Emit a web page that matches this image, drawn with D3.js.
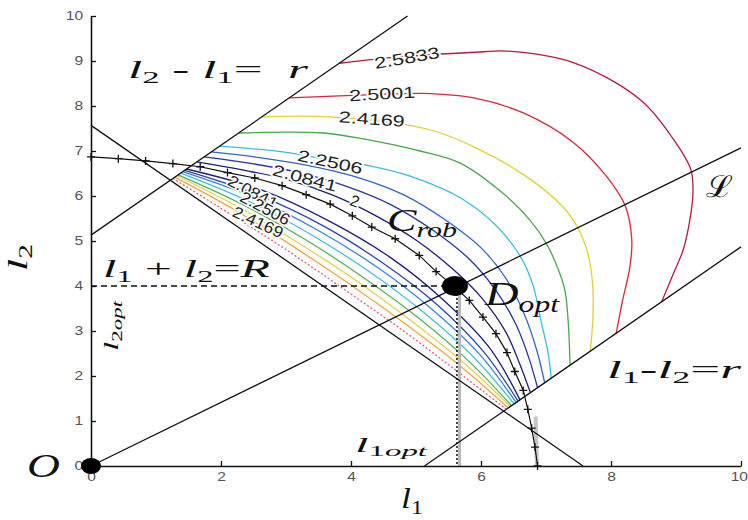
<!DOCTYPE html>
<html>
<head>
<meta charset="utf-8">
<script src="https://cdn.jsdelivr.net/npm/d3@7"></script>
<style>
  html, body { margin: 0; padding: 0; background: #fff; }
  svg { display: block; }
</style>
</head>
<body>
<svg id="chart" width="748" height="520"></svg>
<script>
// ---- data: (l1, l2) plane ----
const xTickValues = [0, 2, 4, 6, 8, 10];
const yTickValues = [0, 1, 2, 3, 4, 5, 6, 7, 8, 9, 10];

// design constraints l1 + l2 = R and |l1 - l2| = r
const bigR = 7.57;
const smallR = 5.13;
const optimum = [5.63, 4.0];
const lineL = [[0, 0], [10, 7.07]];

// robust curve C_rob (plotted with '+' markers)
const cRob = [[0,6.87],[0.42,6.83],[0.84,6.78],[1.26,6.72],[1.68,6.65],[2.1,6.52],[2.52,6.4],
  [2.94,6.23],[3.31,6.03],[3.68,5.82],[4.02,5.56],[4.32,5.31],[4.68,5.05],[5.05,4.68],
  [5.31,4.32],[5.56,4.02],[5.82,3.68],[6.03,3.31],[6.23,2.94],[6.4,2.52],[6.52,2.1],
  [6.65,1.68],[6.72,1.26],[6.78,0.84],[6.83,0.42],[6.87,0]];

// level curves above C_rob
const level25833 = [[3.82,8.95],[4.75,9.09],[5.98,9.2],[6.4,9.22],[7.43,8.96],[8.46,8.13],[8.97,7.24],
  [9.23,6.58],[9.26,6.02],[9.2,5.36],[9.11,4.8],[8.97,4.31],[8.78,3.65]];
const level25001 = [[3.05,8.18],[4.45,8.26],[5.11,8.28],[5.89,8.18],[6.66,7.84],[7.43,7.18],[7.94,6.42],
  [8.22,5.78],[8.32,5.02],[8.29,4.42],[8.18,3.69],[8.08,2.95]];
const level24169 = [[2.63,7.76],[3.68,7.76],[4.95,7.56],[5.38,7.4],[5.89,7.09],[6.66,6.47],[7.26,5.76],
  [7.49,5.29],[7.65,4.69],[7.72,3.98],[7.72,3.24],[7.68,2.55]];
const level23338 = [[2.27,7.4],[3.57,7.4],[4.29,7.24],[5.06,7.0],[5.68,6.73],[6.37,6.02],[6.75,5.47],
  [7.0,4.96],[7.18,4.4],[7.29,3.91],[7.34,3.24],[7.37,2.24]];
const level22506 = [[1.98,7.11],[3.06,6.96],[3.68,6.8],[4.29,6.67],[4.91,6.44],[5.68,5.96],[6.22,5.36],
  [6.6,4.67],[6.8,4.02],[6.92,3.24],[7.03,2.53],[7.08,1.95]];
const level21673 = [[1.85,6.98],[2.56,6.86],[3.29,6.69],[4.11,6.41],[4.82,6.02],[5.46,5.46],[6.02,4.82],
  [6.41,4.11],[6.69,3.29],[6.86,2.56],[6.98,1.85]];
const level20841 = [[1.74,6.87],[2.43,6.73],[3.14,6.54],[3.92,6.22],[4.61,5.81],[5.25,5.25],[5.81,4.61],
  [6.22,3.92],[6.54,3.14],[6.73,2.43],[6.87,1.74]];
const level20009 = [[1.63,6.76],[2.29,6.59],[2.98,6.38],[3.72,6.02],[4.37,5.57],[5.01,5.01],[5.57,4.37],
  [6.02,3.72],[6.38,2.98],[6.59,2.29],[6.76,1.63]];

// level curves between C_rob and l1 + l2 = R
const lowNavy   = [[1.47,6.6],[2.63,6.13],[3.68,5.43],[4.62,4.62],[5.43,3.68],[6.13,2.63],[6.6,1.47]];
const lowBlue   = [[1.44,6.57],[2.54,6.04],[3.58,5.33],[4.5,4.5],[5.33,3.58],[6.04,2.54],[6.57,1.44]];
const lowSky    = [[1.41,6.54],[2.48,5.98],[3.49,5.24],[4.41,4.41],[5.24,3.49],[5.98,2.48],[6.54,1.41]];
const lowCyan   = [[1.38,6.51],[2.4,5.9],[3.39,5.14],[4.3,4.3],[5.14,3.39],[5.9,2.4],[6.51,1.38]];
const lowGreen  = [[1.34,6.47],[2.32,5.82],[3.29,5.04],[4.19,4.19],[5.04,3.29],[5.82,2.32],[6.47,1.34]];
const lowYellow = [[1.32,6.45],[2.26,5.76],[3.2,4.95],[4.1,4.1],[4.95,3.2],[5.76,2.26],[6.45,1.32]];
const lowOrange = [[1.29,6.42],[2.2,5.7],[3.12,4.87],[4.01,4.01],[4.87,3.12],[5.7,2.2],[6.42,1.29]];
const lowRed    = [[1.26,6.39],[2.12,5.62],[3.03,4.78],[3.91,3.91],[4.78,3.03],[5.62,2.12],[6.39,1.26]];

// inline contour labels: text and location on the curve (l1, l2)
const labelText = ['2.5833','2.5001','2.4169','2.2506','2.0841','2','2.0841','2.2506','2.4169'];
const labelAt = [[4.86,9.07],[4.48,8.27],[4.32,7.71],[3.68,6.76],[3.29,6.4],[4.06,5.89],[2.49,6.09],[2.68,5.73],[2.57,5.42]];

// ---- drawing ----
const svg = d3.select('#chart');
svg.append('rect').attr('width', 748).attr('height', 520).attr('fill', '#fff');

const x = d3.scaleLinear().domain([0, 10]).range([91, 741]);
const y = d3.scaleLinear().domain([0, 10]).range([466, 16]);

const smooth = d3.line().x(d => x(d[0])).y(d => y(d[1])).curve(d3.curveCatmullRom.alpha(0.5));
const straight = d3.line().x(d => x(d[0])).y(d => y(d[1]));

const contourTable = [
  { pts: lowRed,    color: '#e2607c', dash: '2,2' },
  { pts: lowOrange, color: '#f0a640' },
  { pts: lowYellow, color: '#e6d24a' },
  { pts: lowGreen,  color: '#58b25a' },
  { pts: lowCyan,   color: '#42c2e2' },
  { pts: lowSky,    color: '#3a84d8' },
  { pts: lowBlue,   color: '#2a44b0' },
  { pts: lowNavy,   color: '#1c207a' },
  { pts: level20009, color: '#1c207a' },
  { pts: level20841, color: '#2634a6' },
  { pts: level21673, color: '#3064c8' },
  { pts: level22506, color: '#3cbde0' },
  { pts: level23338, color: '#4aa84c' },
  { pts: level24169, color: '#e3cf3a' },
  { pts: level25001, color: '#d8283e' },
  { pts: level25833, color: '#b31c3a' }
];

const gC = svg.append('g').attr('fill', 'none').attr('stroke-width', 1.3);
contourTable.forEach(c => {
  gC.append('path').attr('d', smooth(c.pts)).attr('stroke', c.color)
    .attr('stroke-dasharray', c.dash || null);
});

// contour labels with a white halo breaking the line
const gLab = svg.append('g').attr('font-family', '"Liberation Sans", Arial, sans-serif')
  .attr('font-size', 16).attr('fill', '#222').attr('text-anchor', 'middle');
const labelAngle = [-10, -3, 4, 12, 15, 20, 28, 28, 25];
labelText.forEach((t, i) => {
  const p = labelAt[i];
  const el = gLab.append('text')
    .attr('transform', `translate(${x(p[0])},${y(p[1])}) rotate(${labelAngle[i]})`)
    .attr('dy', '0.35em')
    .attr('stroke', '#fff').attr('stroke-width', 3).attr('paint-order', 'stroke')
    .text(t);
  if (t.length > 1) el.attr('textLength', i >= 6 ? 54 : 66).attr('lengthAdjust', 'spacingAndGlyphs');
});

// light grey guides under the optimum projection and the bottom of C_rob
svg.append('path').attr('d', straight([[optimum[0] + 0.04, 0], [optimum[0] + 0.04, optimum[1]]]))
  .attr('stroke', '#b8b8b8').attr('stroke-width', 3).attr('fill', 'none');
svg.append('path').attr('d', straight([[6.86, 0], [6.84, 1.1]]))
  .attr('stroke', '#c4c4c4').attr('stroke-width', 4).attr('fill', 'none');

// constraint lines and the ray L
const gLines = svg.append('g').attr('fill', 'none').attr('stroke', '#111').attr('stroke-width', 1.3);
gLines.append('path').attr('d', straight([[0, smallR], [10 - smallR, 10]]));
gLines.append('path').attr('d', straight([[smallR, 0], [10, 10 - smallR]]));
gLines.append('path').attr('d', straight([[0, bigR], [bigR, 0]]));
gLines.append('path').attr('d', straight(lineL));

// projections of the optimum onto the axes
svg.append('path').attr('d', straight([[0, optimum[1]], optimum]))
  .attr('stroke', '#111').attr('stroke-width', 1.3).attr('stroke-dasharray', '6,4').attr('fill', 'none');
svg.append('path').attr('d', straight([optimum, [optimum[0], 0]]))
  .attr('stroke', '#111').attr('stroke-width', 1.5).attr('stroke-dasharray', '2,2').attr('fill', 'none');

// C_rob with '+' markers
svg.append('path').attr('d', straight(cRob)).attr('stroke', '#111').attr('stroke-width', 1.2).attr('fill', 'none');
svg.append('g').selectAll('path').data(cRob).join('path')
  .attr('transform', d => `translate(${x(d[0])},${y(d[1])})`)
  .attr('d', 'M-4,0H4M0,-4V4').attr('stroke', '#111').attr('stroke-width', 1.3);

// axes
const axL = svg.append('g').attr('transform', `translate(${x(0)},0)`)
  .call(d3.axisLeft(y).tickValues(yTickValues).tickSize(-5).tickSizeOuter(0).tickPadding(6));
const axB = svg.append('g').attr('transform', `translate(0,${y(0)})`)
  .call(d3.axisBottom(x).tickValues(xTickValues).tickSize(-5).tickSizeOuter(0).tickPadding(6));
[axL, axB].forEach(a => {
  a.select('.domain').attr('stroke', '#111').attr('stroke-width', 1.6);
  a.selectAll('.tick line').attr('stroke', '#111').attr('stroke-width', 1.3);
  a.selectAll('.tick text').attr('font-family', '"Liberation Sans", Arial, sans-serif')
    .attr('font-size', 12).attr('fill', '#555').attr('transform', 'scale(1.3,1)');
});
// the last x tick label sits against the right edge
axB.selectAll('.tick text').filter(d => d === 10).attr('text-anchor', 'end').attr('x', 5);

// points O and D_opt
svg.append('ellipse').attr('cx', x(0)).attr('cy', y(0)).attr('rx', 10).attr('ry', 8).attr('fill', '#000');
svg.append('ellipse').attr('cx', x(optimum[0]) - 2).attr('cy', y(optimum[1])).attr('rx', 13).attr('ry', 10).attr('fill', '#000');

// math annotations
function mathText(parts, o) {
  const t = svg.append('text')
    .attr('font-family', '"Liberation Serif", "DejaVu Serif", serif')
    .attr('font-size', o.size).attr('fill', '#111');
  if (o.rotate) t.attr('transform', `translate(${o.x},${o.y}) rotate(${o.rotate})`);
  else t.attr('x', o.x).attr('y', o.y);
  let low = false;
  parts.forEach(p => {
    const s = t.append('tspan').text(p.t);
    if (p.i) s.attr('font-style', 'italic');
    if (p.sub) {
      s.attr('font-size', o.size * 0.68);
      if (!low) { s.attr('dy', o.size * 0.2); low = true; }
    } else if (low) { s.attr('dy', -o.size * 0.2); low = false; }
  });
  if (o.w) t.attr('textLength', o.w).attr('lengthAdjust', 'spacingAndGlyphs');
  return t;
}
const L = (t) => ({ t, i: true });
const S = (t) => ({ t, sub: true });
const SI = (t) => ({ t, sub: true, i: true });
const P = (t) => ({ t });

mathText([L('l'), S('2'), P('\u00a0-\u00a0'), L('l'), S('1'), P('='), P('\u00a0\u00a0'), L('r')], { x: 128, y: 78, size: 25, w: 180 });
mathText([L('l'), S('1'), P('\u00a0+\u00a0'), L('l'), S('2'), P('='), L('R')], { x: 103, y: 277, size: 25, w: 167 });
mathText([L('l'), S('1'), P('-'), L('l'), S('2'), P('='), L('r')], { x: 607, y: 378, size: 25, w: 134 });
mathText([L('l'), S('1'), SI('opt')], { x: 355, y: 452, size: 21, w: 72 });
mathText([L('l'), S('2'), SI('opt')], { x: 118, y: 351, size: 20, w: 50, rotate: -90 });
mathText([L('O')], { x: 27, y: 477, size: 33, w: 33 });
mathText([L('D'), SI('opt')], { x: 485, y: 305, size: 33, w: 74 });
mathText([L('C'), SI('rob')], { x: 387, y: 231, size: 31, w: 70 });
mathText([P('\u2112')], { x: 706, y: 197, size: 30, w: 27 });
mathText([L('l'), S('1')], { x: 401, y: 508, size: 29, w: 22 });
mathText([L('l'), S('2')], { x: 27, y: 271, size: 27, w: 27, rotate: -90 });
</script>
</body>
</html>
